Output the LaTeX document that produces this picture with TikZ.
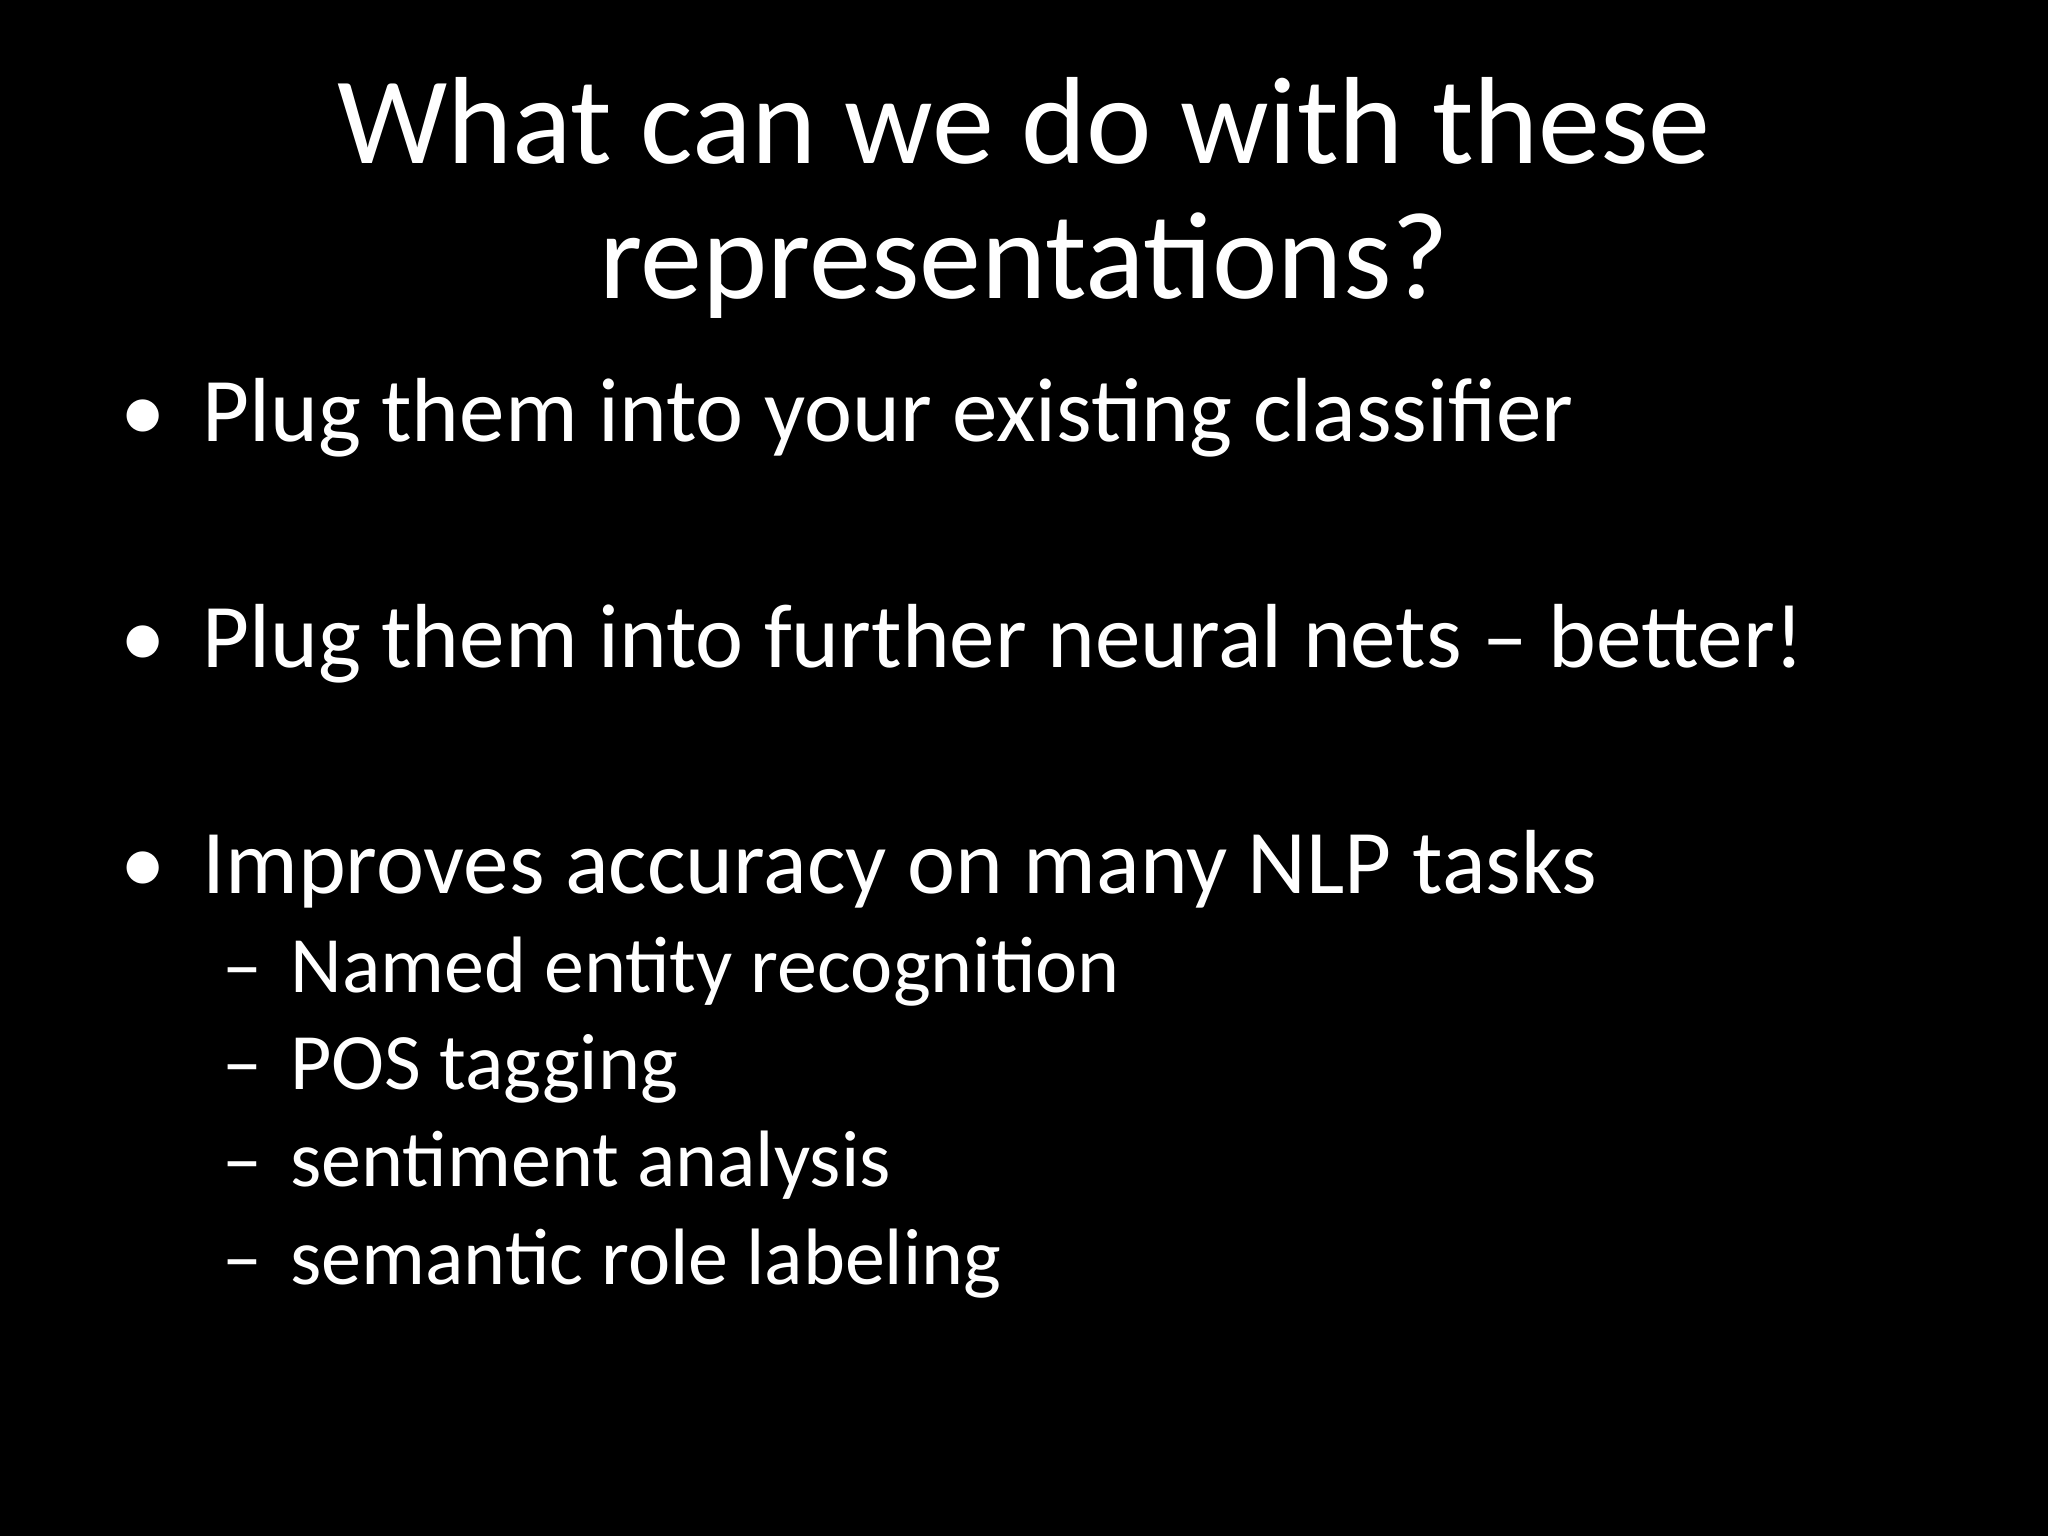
\documentclass[tikz,border=0pt]{standalone}
\usepackage{fontspec}
\setmainfont{Carlito}
\begin{document}
\begin{tikzpicture}[x=1pt,y=1pt,
  title/.style={text=white,font=\fontsize{62}{75}\selectfont,anchor=base,inner sep=0},
  bul/.style={text=white,font=\fontsize{45.5}{55}\selectfont,anchor=base west,inner sep=0},
  sub/.style={text=white,font=\fontsize{40}{48}\selectfont,anchor=base west,inner sep=0}]
\fill[black] (0,0) rectangle (1024,-768);
\useasboundingbox (0,0) rectangle (1024,-768);
\node[title] (t1) at (512,-81.5) {What can we do with these};
\node[title] (t2) at (512,-149) {representations?};
\foreach \y/\t/\n in {220.7/{Plug them into your existing classifier}/b1,
  333.7/{Plug them into further neural nets -- better!}/b2,
  446.7/{Improves accuracy on many NLP tasks}/b3}{
  \node[bul] (\n d) at (60,-\y) {•};
  \node[bul] (\n) at (101,-\y) {\t};
}
\foreach \y/\t/\n in {496/{Named entity recognition}/s1,544.6/{POS tagging}/s2,
  593/{sentiment analysis}/s3,642/{semantic role labeling}/s4}{
  \node[sub] (\n d) at (111,-\y) {--};
  \node[sub] (\n) at (145,-\y) {\t};
}
\end{tikzpicture}
\end{document}
